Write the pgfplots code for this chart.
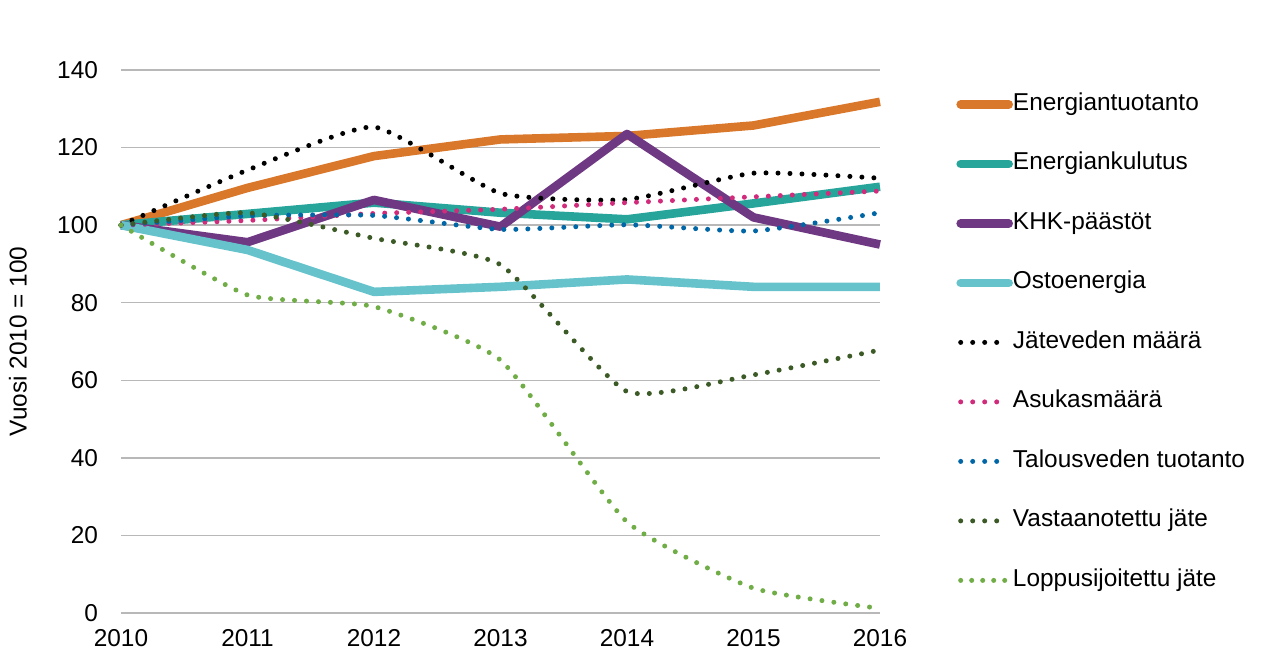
\documentclass[border=0pt]{standalone}
\usepackage{fontspec}
\setmainfont{Liberation Sans}
\usepackage{pgfplots}
\pgfplotsset{compat=1.18}

\definecolor{cOrange}{HTML}{D9772A}
\definecolor{cTeal}{HTML}{27A59B}
\definecolor{cPurple}{HTML}{6F3882}
\definecolor{cLight}{HTML}{66C3CC}
\definecolor{cPink}{HTML}{D12B7B}
\definecolor{cBlue}{HTML}{0066A6}
\definecolor{cDark}{HTML}{3C5A26}
\definecolor{cGreen}{HTML}{70AD47}

\pgfplotsset{
  solidline/.style={line width=4.3pt, line join=round,
    legend image code/.code={\draw[##1, line cap=round] (1pt,0pt) -- (25pt,0pt);}},
  dotline/.style={line width=2.5pt, line cap=round, smooth, tension=0.3,
    dash pattern=on 0pt off 6pt,
    legend image code/.code={\draw[##1, sharp plot] (1pt,0pt) -- (20pt,0pt);}},
  dotlinelong/.style={dotline,
    legend image code/.code={\draw[##1, sharp plot, dash pattern=on 0pt off 5.5pt] (1pt,0pt) -- (24pt,0pt);}},
}

\begin{document}
\begin{tikzpicture}[font=\fontsize{12.2}{14.6}\selectfont]
\path[use as bounding box] (-60.5pt,-29pt) rectangle (579.5pt,306.5pt);
\begin{axis}[
  at={(0,0)}, anchor=south west,
  scale only axis, width=379.5pt, height=271.5pt,
  xmin=2010, xmax=2016, ymin=0, ymax=140,
  xtick={2010,2011,2012,2013,2014,2015,2016},
  ytick={0,20,40,60,80,100,120,140},
  /pgf/number format/assume math mode=true,
  x tick label style={/pgf/number format/1000 sep={}, yshift=-4.5pt},
  y tick label style={xshift=-8pt},
  axis line style={draw=none},
  tick style={draw=none},
  ymajorgrids,
  grid style={color=black!28, line width=0.7pt},
  ylabel={Vuosi 2010 = 100},
  ylabel style={at={(axis description cs:-0.1357,0.5)}, anchor=center},
  clip=false,
  legend style={draw=none, fill=none, inner sep=0pt,
    at={(rel axis cs:1,1)}, anchor=north west, xshift=38pt, yshift=-11pt,
    row sep=17.75pt,
    nodes={inner xsep=0pt, inner ysep=0pt, text height=9pt, text depth=3pt}},
  legend cell align=left,
]
\addplot[solidline, cOrange] coordinates {
  (2010,100) (2011,109.6) (2012,117.8) (2013,122.1) (2014,123.0) (2015,125.7) (2016,131.8)};
\addlegendentry{Energiantuotanto}
\addplot[solidline, cTeal] coordinates {
  (2010,100) (2011,102.9) (2012,105.8) (2013,103.2) (2014,101.5) (2015,105.6) (2016,109.9)};
\addlegendentry{Energiankulutus}
\addplot[solidline, cPurple] coordinates {
  (2010,100) (2011,95.6) (2012,106.5) (2013,99.6) (2014,123.5) (2015,102.0) (2016,95.0)};
\addlegendentry{KHK-päästöt}
\addplot[solidline, cLight] coordinates {
  (2010,100) (2011,93.6) (2012,82.8) (2013,84.1) (2014,86.0) (2015,84.1) (2016,84.1)};
\addlegendentry{Ostoenergia}
\addplot[dotline, black] coordinates {
  (2010,100) (2011,114.2) (2012,125.3) (2013,108.2) (2014,106.6) (2015,113.4) (2016,112.1)};
\addlegendentry{Jäteveden määrä}
\addplot[dotline, cPink] coordinates {
  (2010,100) (2011,101.2) (2012,103.0) (2013,104.1) (2014,105.8) (2015,107.3) (2016,108.8)};
\addlegendentry{Asukasmäärä}
\addplot[dotline, cBlue] coordinates {
  (2010,100) (2011,102.4) (2012,102.5) (2013,98.9) (2014,100.1) (2015,98.5) (2016,103.2)};
\addlegendentry{Talousveden tuotanto}
\addplot[dotline, cDark] coordinates {
  (2010,100) (2011,103.2) (2012,96.6) (2013,89.8) (2014,57.1) (2015,61.4) (2016,67.8)};
\addlegendentry{Vastaanotettu jäte}
\addplot[dotlinelong, cGreen] coordinates {
  (2010,100) (2011,82.0) (2012,79.0) (2013,65.2) (2014,23.5) (2015,6.4) (2016,1.2)};
\addlegendentry{Loppusijoitettu jäte}
\end{axis}
\end{tikzpicture}
\end{document}
